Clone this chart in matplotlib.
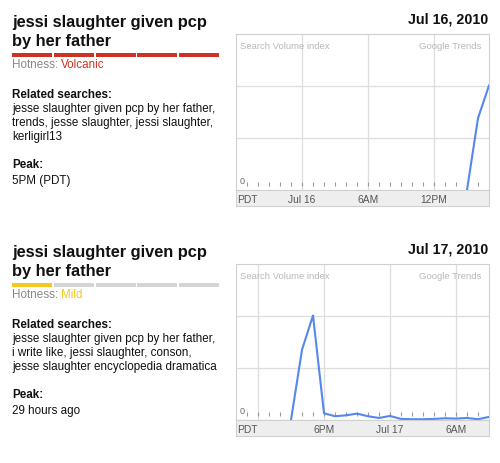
import matplotlib
matplotlib.use('Agg')
import matplotlib.pyplot as plt
import matplotlib.transforms as mtransforms
from matplotlib.patches import Rectangle
import pandas as pd

# ---- data ----
title_lines = ["jessi slaughter given pcp", "by her father"]

dates = ["Jul 16, 2010", "Jul 17, 2010"]
hotness = ["Volcanic", "Mild"]
hot_levels = [5, 1]
hot_colors = ["#cc3322", "#f5c81e"]
related = [
    ["jesse slaughter given pcp by her father,",
     "trends, jesse slaughter, jessi slaughter,",
     "kerligirl13"],
    ["jesse slaughter given pcp by her father,",
     "i write like, jessi slaughter, conson,",
     "jesse slaughter encyclopedia dramatica"],
]
peaks = ["5PM (PDT)", "29 hours ago"]

# chart 1
range1 = ["2010-07-15 18:00", "2010-07-16 17:00"]
times1 = pd.date_range("2010-07-16 15:00", "2010-07-16 17:00", freq="h")
values1 = [0, 46, 67]
grid1 = ["2010-07-16 00:00", "2010-07-16 06:00", "2010-07-16 12:00"]
labels1 = ["Jul 16", "6AM", "12PM"]

# chart 2
range2 = ["2010-07-16 10:00", "2010-07-17 09:00"]
times2 = pd.date_range("2010-07-16 15:00", "2010-07-17 09:00", freq="h")
values2 = [0, 45, 67, 4.3, 2.4, 3, 4.1, 2.4, 1.3, 2.6, 0.7, 0.5, 0.5, 0.7,
           1.1, 0.9, 1.3, 0.5, 2]
grid2 = ["2010-07-16 12:00", "2010-07-16 18:00", "2010-07-17 00:00", "2010-07-17 06:00"]
labels2 = ["", "6PM", "Jul 17", "6AM"]

W, H = 500, 464
plt.rcParams['font.family'] = "Liberation Sans"

fig = plt.figure(figsize=(W / 100, H / 100), dpi=100)
fig.patch.set_facecolor("white")

TXT = "#111111"
BODY = 8.4


def fx(px):
    return px / W


def fy(py):
    return 1 - py / H


def panel(y0, idx, rng, times, values, grid, labels):
    # left text block
    for i, line in enumerate(title_lines):
        fig.text(fx(12), fy(y0 + 27 + 19 * i), line, fontsize=11.8,
                 fontweight="bold", va="baseline", ha="left", color=TXT)
    # hotness bar
    seg = 41.67
    for i in range(5):
        c = hot_colors[idx] if i < hot_levels[idx] else "#d4d4d4"
        fig.patches.append(Rectangle((fx(12.3 + i * seg), fy(y0 + 57.7)),
                                     40 / W, 3.4 / H,
                                     transform=fig.transFigure,
                                     facecolor=c, edgecolor="none"))
    fig.text(fx(12), fy(y0 + 68), "Hotness:", fontsize=BODY, color="#888888",
             va="baseline")
    fig.text(fx(61), fy(y0 + 68), hotness[idx], fontsize=BODY,
             color=hot_colors[idx], va="baseline")
    fig.text(fx(12), fy(y0 + 98), "Related searches:", fontsize=BODY,
             fontweight="bold", va="baseline", color=TXT)
    for i, line in enumerate(related[idx]):
        fig.text(fx(12), fy(y0 + 112 + 14 * i), line, fontsize=BODY,
                 va="baseline", color=TXT)
    fig.text(fx(12), fy(y0 + 168), "Peak:", fontsize=BODY, fontweight="bold",
             va="baseline", color=TXT)
    fig.text(fx(12), fy(y0 + 184), peaks[idx], fontsize=BODY, va="baseline",
             color=TXT)

    # date header
    fig.text(fx(488), fy(y0 + 24), dates[idx], fontsize=10.3, fontweight="bold",
             ha="right", va="baseline", color=TXT)

    # chart
    left, right, top, bottom = 236, 489, y0 + 35, y0 + 191
    ax = fig.add_axes([fx(left), fy(bottom), fx(right - left), (bottom - top) / H])
    t0, t1 = pd.to_datetime(rng)
    ax.set_xlim(t0, t1)
    ax.set_ylim(0, 100)
    for g in pd.to_datetime(grid):
        ax.axvline(g, color="#dddddd", lw=0.9, zorder=0)
    for yv in [100 / 3, 200 / 3]:
        ax.axhline(yv, color="#dddddd", lw=0.9, zorder=0)
    # hour ticks
    hours = pd.date_range(t0 + pd.Timedelta(hours=1), t1 - pd.Timedelta(hours=1), freq="h")
    trans = mtransforms.blended_transform_factory(ax.transData, ax.transAxes)
    ax.vlines(hours, 0.025, 0.05, transform=trans, color="#999999", lw=0.8)
    ax.plot(times, values, color="#5588ee", lw=1.5, zorder=3)
    ax.set_xticks([])
    ax.set_yticks([])
    for s in ax.spines.values():
        s.set_color("#d0d0d0")
        s.set_linewidth(0.8)
    ax.text(0.015, 0.955, "Search Volume index", transform=ax.transAxes,
            fontsize=6.8, color="#b8b8b8", va="top", ha="left")
    ax.text(0.97, 0.955, "Google Trends", transform=ax.transAxes,
            fontsize=6.8, color="#b8b8b8", va="top", ha="right")
    ax.text(0.015, 0.03, "0", transform=ax.transAxes, fontsize=6.5,
            color="#666666", va="bottom", ha="left")

    # gray axis band
    bx = fig.add_axes([fx(left), fy(y0 + 207), fx(right - left), 16 / H])
    bx.set_facecolor("#eeeeee")
    bx.set_xlim(t0, t1)
    bx.set_ylim(0, 1)
    bx.set_xticks([])
    bx.set_yticks([])
    for s in bx.spines.values():
        s.set_color("#d0d0d0")
        s.set_linewidth(0.8)
    bx.text(0.005, 0.45, "PDT", transform=bx.transAxes, fontsize=7.4,
            color="#555555", va="center", ha="left")
    for g, lab in zip(pd.to_datetime(grid), labels):
        bx.text(g, 0.45, lab, fontsize=7.4, color="#555555",
                va="center", ha="center")


panel(0, 0, range1, times1, values1, grid1, labels1)
panel(230, 1, range2, times2, values2, grid2, labels2)

fig.savefig("out.png", dpi=100)
